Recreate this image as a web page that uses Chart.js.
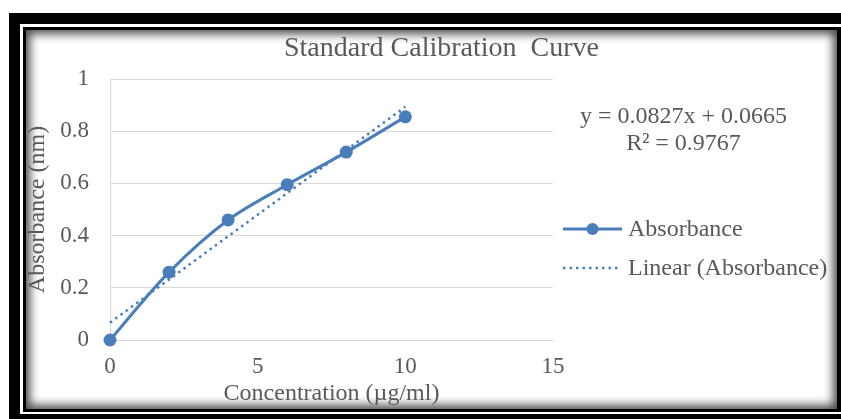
<!DOCTYPE html>
<html>
<head>
<meta charset="utf-8">
<script src="https://cdn.jsdelivr.net/npm/chart.js@4/dist/chart.umd.min.js"></script>
<style>
  html, body { margin: 0; padding: 0; background: #fff; overflow: hidden; }
  body { width: 841px; height: 419px; position: relative; }
  .box { position: absolute; }
  #outer { left: 9px; top: 13px; width: 850px; height: 406px; background: #000; }
  #gap { left: 20px; top: 24px; width: 840px; height: 390px; background: #fff; }
  #inner { left: 23px; top: 27px; width: 818px; height: 385px; background: #000; }
  #content { left: 26px; top: 30px; width: 811px; height: 379px; background: #fff;
             box-shadow: inset 0 0 10px 4px rgba(0,0,0,0.7); }
  #chart { position: absolute; left: 0; top: 0; }
</style>
</head>
<body>
<div class="box" id="outer"></div>
<div class="box" id="gap"></div>
<div class="box" id="inner"></div>
<div class="box" id="content"></div>
<canvas id="chart" width="841" height="419"></canvas>
<script>
// data
var concentration = [0, 2, 4, 6, 8, 10];
var absorbance = [0, 0.26, 0.46, 0.595, 0.72, 0.855];
// linear trendline end points (y = 0.0827x + 0.0665)
var trendX = [0, 10];
var trendY = [0.0665, 0.8935];
var xTicks = [0, 5, 10, 15];
var yTicks = [0, 0.2, 0.4, 0.6, 0.8, 1];

var titleText = 'Standard Calibration  Curve';
var equationLines = ['y = 0.0827x + 0.0665', 'R\u00b2 = 0.9767'];
var seriesNames = ['Absorbance', 'Linear (Absorbance)'];

var blue = '#4a7ebb';
var grey = '#595959';
var serif = '"Liberation Serif", "Times New Roman", serif';

function toPoints(xs, ys) {
    return xs.map(function (x, i) { return {x: x, y: ys[i]}; });
}

// title, equation and legend are drawn by hand, Excel style
var decorations = {
    id: 'decorations',
    afterDraw: function (chart) {
        var ctx = chart.ctx;
        ctx.save();
        ctx.fillStyle = grey;
        ctx.textBaseline = 'alphabetic';

        ctx.font = '28px ' + serif;
        ctx.textAlign = 'left';
        ctx.fillText(titleText, 284, 56);

        ctx.font = '24px ' + serif;
        ctx.textAlign = 'center';
        ctx.fillText(equationLines[0], 683.5, 123);
        ctx.fillText(equationLines[1], 683.5, 150);

        // legend
        var ds = chart.data.datasets;
        ctx.strokeStyle = ds[0].borderColor;
        ctx.lineWidth = ds[0].borderWidth;
        ctx.beginPath();
        ctx.moveTo(563, 229);
        ctx.lineTo(622, 229);
        ctx.stroke();
        ctx.fillStyle = ds[0].pointBackgroundColor;
        ctx.beginPath();
        ctx.arc(592.5, 229, 6, 0, Math.PI * 2);
        ctx.fill();

        ctx.strokeStyle = ds[1].borderColor;
        ctx.lineWidth = ds[1].borderWidth;
        ctx.setLineDash(ds[1].borderDash);
        ctx.beginPath();
        ctx.moveTo(563, 268);
        ctx.lineTo(621, 268);
        ctx.stroke();
        ctx.setLineDash([]);

        ctx.fillStyle = grey;
        ctx.textAlign = 'left';
        ctx.fillText(seriesNames[0], 628, 236);
        ctx.fillText(seriesNames[1], 628, 275);
        ctx.restore();
    }
};

var ctx = document.getElementById('chart').getContext('2d');
var chart = new Chart(ctx, {
    type: 'scatter',
    data: {
        datasets: [{
            label: seriesNames[0],
            data: toPoints(concentration, absorbance),
            showLine: true,
            tension: 0.33,
            borderColor: blue,
            borderWidth: 3,
            pointRadius: 6.5,
            pointBackgroundColor: blue,
            pointBorderColor: blue,
            pointBorderWidth: 0,
            clip: false
        }, {
            label: seriesNames[1],
            data: toPoints(trendX, trendY),
            showLine: true,
            borderColor: blue,
            borderWidth: 2.5,
            borderDash: [2.5, 4],
            pointRadius: 0,
            clip: false
        }]
    },
    options: {
        responsive: false,
        animation: false,
        events: [],
        layout: {padding: {left: 23, right: 288, top: 79, bottom: 0}},
        plugins: {
            legend: {display: false},
            title: {display: false},
            tooltip: {enabled: false}
        },
        scales: {
            x: {
                type: 'linear',
                min: 0,
                max: 15,
                afterFit: function (scale) { scale.height = 79; },
                afterBuildTicks: function (scale) {
                    scale.ticks = xTicks.map(function (v) { return {value: v}; });
                },
                grid: {display: false, drawTicks: false},
                border: {display: true, color: '#d9d9d9', width: 1},
                ticks: {
                    color: grey, padding: 13, font: {family: serif, size: 23},
                    callback: function (v) { return String(v); }
                },
                title: {
                    display: true,
                    text: 'Concentration (\u00b5g/ml)',
                    color: grey,
                    font: {family: serif, size: 24},
                    padding: {top: 0, bottom: 11}
                }
            },
            y: {
                type: 'linear',
                min: 0,
                max: 1,
                afterFit: function (scale) { scale.width = 87; },
                afterBuildTicks: function (scale) {
                    scale.ticks = yTicks.map(function (v) { return {value: v}; });
                },
                grid: {color: '#d9d9d9', lineWidth: 1, drawTicks: false},
                border: {display: true, color: '#d9d9d9', width: 1},
                ticks: {
                    color: grey, padding: 21, font: {family: serif, size: 23},
                    callback: function (v) { return String(v); }
                },
                title: {
                    display: true,
                    text: 'Absorbance (nm)',
                    color: grey,
                    font: {family: serif, size: 24},
                    padding: {top: 0, bottom: 0}
                }
            }
        }
    },
    plugins: [decorations]
});
</script>
</body>
</html>
